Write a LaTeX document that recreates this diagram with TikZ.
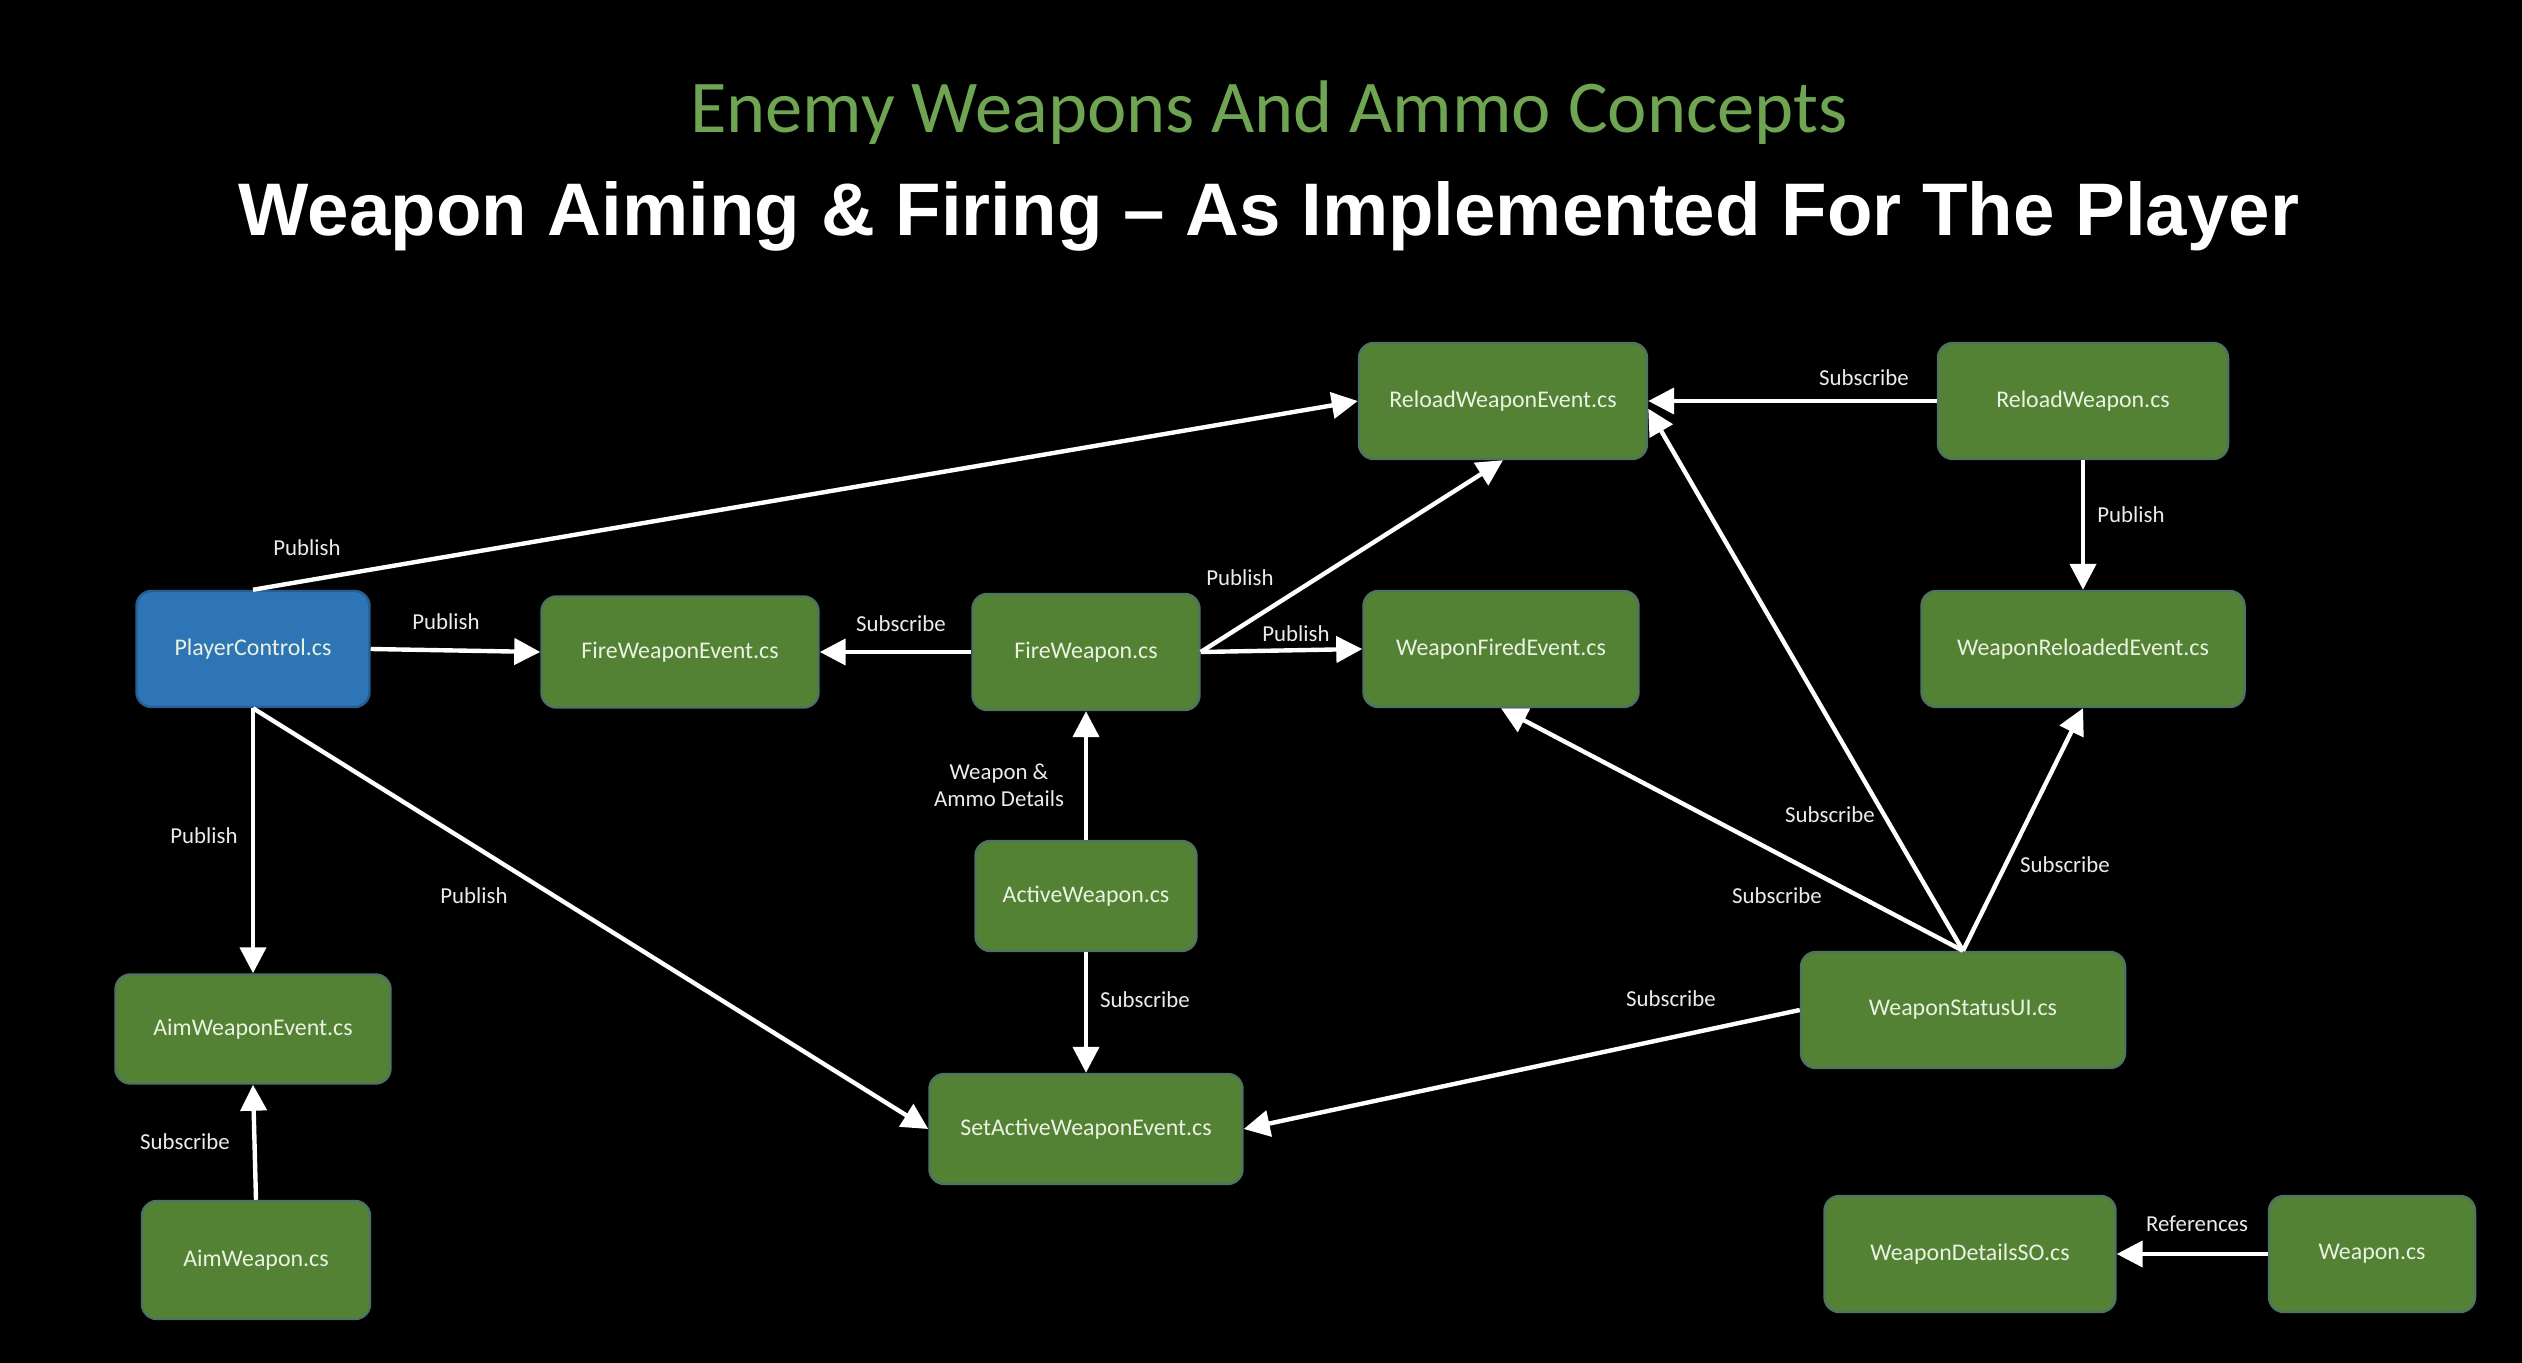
\documentclass[tikz,border=0pt]{standalone}
\usepackage{fontspec}
\setmainfont{Carlito}
\newfontfamily\headfont{Liberation Sans}
\usetikzlibrary{arrows.meta,positioning}

\definecolor{boxgreen}{HTML}{548235}
\definecolor{boxblue}{HTML}{2E75B6}
\definecolor{boxedge}{HTML}{4E7362}
\definecolor{boxtext}{HTML}{EAF2E2}
\definecolor{headgreen}{HTML}{6FA452}

\begin{document}
\begin{tikzpicture}[
    classbox/.style={
        draw=boxedge,
        fill=boxgreen,
        rounded corners=0.15cm,
        line width=0.7pt,
        minimum height=1.16cm,
        text=boxtext,
        font=\fontsize{6.8}{8}\selectfont,
        align=center
    },
    lbl/.style={
        text=white!92!black,
        font=\fontsize{6.5}{7.8}\selectfont,
        align=center,
        inner sep=0pt
    },
    link/.style={
        -{Triangle[length=0.26cm, width=0.26cm]},
        line width=1.25pt,
        draw=white
    }
]
    % Background
    \fill[black] (0, 0) rectangle (25.22, -13.63);
    \useasboundingbox (0, 0) rectangle (25.22, -13.63);

    % Titles
    \node[text=headgreen, font=\fontsize{21.2}{25}\selectfont] (topic) at (12.69, -1.13) {Enemy Weapons And Ammo Concepts};
    \node[text=white, font=\headfont\bfseries\fontsize{21.2}{25}\selectfont] (heading) at (12.69, -2.16) {Weapon Aiming \& Firing – As Implemented For The Player};

    % Classes
    \node[classbox, minimum width=2.88cm] (rwe) at (15.03, -4.01) {ReloadWeaponEvent.cs};
    \node[classbox, minimum width=2.90cm] (rw) at (20.83, -4.01) {ReloadWeapon.cs};
    \node[classbox, minimum width=2.33cm, fill=boxblue, draw=boxblue!80!black] (pc) at (2.53, -6.49) {PlayerControl.cs};
    \node[classbox, minimum width=2.77cm, minimum height=1.11cm] (fwe) at (6.80, -6.52) {FireWeaponEvent.cs};
    \node[classbox, minimum width=2.27cm] (fw) at (10.86, -6.52) {FireWeapon.cs};
    \node[classbox, minimum width=2.75cm] (wfe) at (15.01, -6.49) {WeaponFiredEvent.cs};
    \node[classbox, minimum width=3.23cm] (wre) at (20.83, -6.49) {WeaponReloadedEvent.cs};
    \node[classbox, minimum width=2.21cm, minimum height=1.10cm] (aw) at (10.86, -8.96) {ActiveWeapon.cs};
    \node[classbox, minimum width=2.75cm, minimum height=1.09cm] (awe) at (2.53, -10.29) {AimWeaponEvent.cs};
    \node[classbox, minimum width=3.13cm, minimum height=1.10cm] (sawe) at (10.86, -11.29) {SetActiveWeaponEvent.cs};
    \node[classbox, minimum width=3.24cm] (wsui) at (19.63, -10.10) {WeaponStatusUI.cs};
    \node[classbox, minimum width=2.28cm, minimum height=1.18cm] (aim) at (2.56, -12.60) {AimWeapon.cs};
    \node[classbox, minimum width=2.91cm] (wdso) at (19.70, -12.54) {WeaponDetailsSO.cs};
    \node[classbox, minimum width=2.06cm] (wpn) at (23.72, -12.54) {Weapon.cs};

    % Connections
    \draw[link] (pc.north) -- (rwe.west);
    \draw[link] (pc.east) -- (fwe.west);
    \draw[link] (fw.west) -- (fwe.east);
    \draw[link] (fw.east) -- (rwe.south);
    \draw[link] (fw.east) -- (wfe.west);
    \draw[link] (aw.north) -- (fw.south);
    \draw[link] (aw.south) -- (sawe.north);
    \draw[link] (pc.south) -- (awe.north);
    \draw[link] (pc.south) -- (sawe.west);
    \draw[link] (aim.north) -- (awe.south);
    \draw[link] (rw.west) -- (rwe.east);
    \draw[link] (rw.south) -- (wre.north);
    \draw[link] (wsui.north) -- (rwe.-3);
    \draw[link] (wsui.north) -- (wfe.south);
    \draw[link] (wsui.north) -- (wre.south);
    \draw[link] (wsui.west) -- (sawe.east);
    \draw[link] (wpn.west) -- (wdso.east);

    % Labels
    \node[lbl] (l1) at (3.07, -5.48) {Publish};
    \node[lbl] (l2) at (4.46, -6.22) {Publish};
    \node[lbl] (l3) at (9.01, -6.24) {Subscribe};
    \node[lbl] (l4) at (12.40, -5.78) {Publish};
    \node[lbl] (l5) at (12.96, -6.34) {Publish};
    \node[lbl] (l6) at (9.99, -7.85) {Weapon \&\\Ammo Details};
    \node[lbl] (l7) at (11.45, -10.00) {Subscribe};
    \node[lbl] (l8) at (2.04, -8.36) {Publish};
    \node[lbl] (l9) at (4.74, -8.96) {Publish};
    \node[lbl] (l10) at (1.85, -11.42) {Subscribe};
    \node[lbl] (l11) at (18.64, -3.78) {Subscribe};
    \node[lbl] (l12) at (21.31, -5.15) {Publish};
    \node[lbl] (l13) at (18.30, -8.15) {Subscribe};
    \node[lbl] (l14) at (17.77, -8.96) {Subscribe};
    \node[lbl] (l15) at (20.65, -8.65) {Subscribe};
    \node[lbl] (l16) at (16.71, -9.99) {Subscribe};
    \node[lbl] (l17) at (21.97, -12.24) {References};
\end{tikzpicture}
\end{document}
